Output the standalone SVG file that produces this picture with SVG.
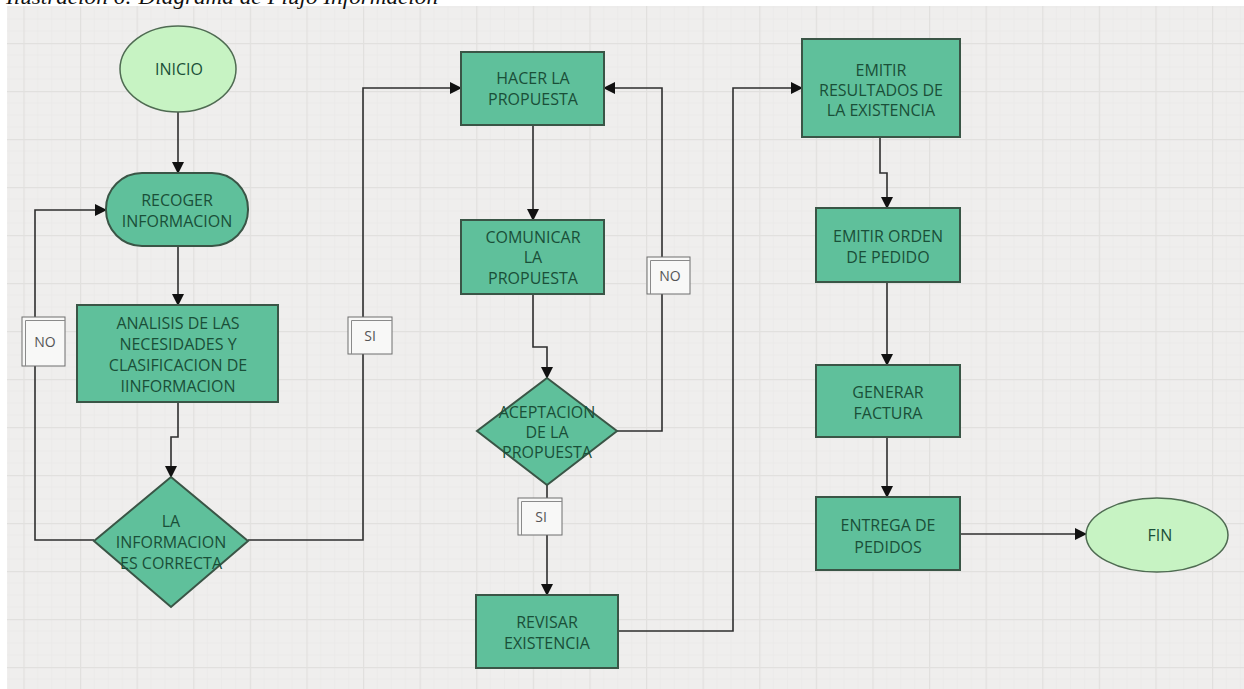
<svg xmlns="http://www.w3.org/2000/svg" width="1244" height="689" viewBox="0 0 1244 689">
  <style>
    .caption { font-family: "Liberation Serif", serif; font-style: italic; font-size: 20px; fill: #111; }
    .box { fill: #5fc09b; stroke: #3a5546; stroke-width: 2; }
    .term { fill: #c7f3c3; stroke: #4f6b52; stroke-width: 1.5; }
    .lbl { font-family: "Open Sans", "Liberation Sans", sans-serif; font-size: 16px; fill: #1a4f38; text-anchor: middle; }
    .tag { fill: #f8f8f7; stroke: #6e6e6e; stroke-width: 1; }
    .tagline { fill: none; stroke: #8a8a8a; stroke-width: 1; }
    .tagtxt { font-family: "Open Sans", "Liberation Sans", sans-serif; font-size: 14px; fill: #555; text-anchor: middle; }
    .wire { fill: none; stroke: #2e2e2e; stroke-width: 1.6; }
  </style>
  <defs>
    <pattern id="grid" x="80" y="43" width="56.6" height="48" patternUnits="userSpaceOnUse">
      <path d="M14.15 0V48M28.3 0V48M42.45 0V48M0 12H56.6M0 24H56.6M0 36H56.6" stroke="#ebeae9" stroke-width="1" fill="none"/>
      <path d="M0.5 0V48M0 0.5H56.6" stroke="#e1e0de" stroke-width="1.5" fill="none"/>
    </pattern>
    <marker id="arrow" viewBox="0 0 12 12" refX="11" refY="6" markerWidth="12" markerHeight="12" markerUnits="userSpaceOnUse" orient="auto">
      <path d="M0 0L12 6L0 12Z" fill="#111"/>
    </marker>
  </defs>

  <!-- page -->
  <rect x="0" y="0" width="1244" height="689" fill="#ffffff"/>
  <rect x="7" y="6" width="1237" height="683" fill="#efeeed"/>
  <rect x="7" y="6" width="1237" height="683" fill="url(#grid)"/>
  <text class="caption" x="6" y="4" textLength="432" lengthAdjust="spacingAndGlyphs">Ilustración 6: Diagrama de Flujo Información</text>

  <!-- connectors -->
  <g id="connectors">
    <path class="wire" d="M178 112V173" marker-end="url(#arrow)"/>
    <path class="wire" d="M178 246V305" marker-end="url(#arrow)"/>
    <path class="wire" d="M178 402V437H171V477" marker-end="url(#arrow)"/>
    <path class="wire" d="M94 540H35V210H106" marker-end="url(#arrow)"/>
    <path class="wire" d="M248 540H363V88H461" marker-end="url(#arrow)"/>
    <path class="wire" d="M533 125V220" marker-end="url(#arrow)"/>
    <path class="wire" d="M533 294V347H547V378" marker-end="url(#arrow)"/>
    <path class="wire" d="M617 431H662V88H604" marker-end="url(#arrow)"/>
    <path class="wire" d="M547 485V595" marker-end="url(#arrow)"/>
    <path class="wire" d="M618 631H733V88H802" marker-end="url(#arrow)"/>
    <path class="wire" d="M880 137V173H887V208" marker-end="url(#arrow)"/>
    <path class="wire" d="M887 282V365" marker-end="url(#arrow)"/>
    <path class="wire" d="M887 437V497" marker-end="url(#arrow)"/>
    <path class="wire" d="M960 534H1086" marker-end="url(#arrow)"/>

    <!-- branch tags -->
    <g id="tag-no-1">
      <rect class="tag" x="22" y="317" width="43" height="49"/>
      <path class="tagline" d="M25.5 366V320.5H65"/>
      <text class="tagtxt" x="45" y="347">NO</text>
    </g>
    <g id="tag-si-1">
      <rect class="tag" x="348" y="317" width="44" height="37"/>
      <path class="tagline" d="M351.5 354V320.5H392"/>
      <text class="tagtxt" x="370" y="341">SI</text>
    </g>
    <g id="tag-no-2">
      <rect class="tag" x="647" y="257" width="43" height="37"/>
      <path class="tagline" d="M650.5 294V260.5H690"/>
      <text class="tagtxt" x="670" y="281">NO</text>
    </g>
    <g id="tag-si-2">
      <rect class="tag" x="518" y="498" width="44" height="37"/>
      <path class="tagline" d="M521.5 535V501.5H562"/>
      <text class="tagtxt" x="541" y="522">SI</text>
    </g>
  </g>

  <g id="inicio">
    <ellipse class="term" cx="178" cy="69" rx="58" ry="43"/>
    <text class="lbl" x="179" y="75">INICIO</text>
  </g>

  <g id="recoger">
    <rect class="box" x="106" y="173" width="142" height="73" rx="36" ry="36"/>
    <text class="lbl" x="177" y="206">RECOGER</text>
    <text class="lbl" x="177" y="227">INFORMACION</text>
  </g>

  <g id="analisis">
    <rect class="box" x="77" y="305" width="201" height="97"/>
    <text class="lbl" x="178" y="329">ANALISIS DE LAS</text>
    <text class="lbl" x="178" y="350">NECESIDADES Y</text>
    <text class="lbl" x="178" y="371">CLASIFICACION DE</text>
    <text class="lbl" x="178" y="392">IINFORMACION</text>
  </g>

  <g id="decision-informacion">
    <path class="box" d="M171 477L248 541L171 607L94 541Z"/>
    <text class="lbl" x="171" y="527">LA</text>
    <text class="lbl" x="171" y="548">INFORMACION</text>
    <text class="lbl" x="171" y="569">ES CORRECTA</text>
  </g>

  <g id="hacer-propuesta">
    <rect class="box" x="461" y="52" width="143" height="73"/>
    <text class="lbl" x="533" y="84">HACER LA</text>
    <text class="lbl" x="533" y="105">PROPUESTA</text>
  </g>

  <g id="comunicar-propuesta">
    <rect class="box" x="461" y="220" width="143" height="74"/>
    <text class="lbl" x="533" y="243">COMUNICAR</text>
    <text class="lbl" x="533" y="263">LA</text>
    <text class="lbl" x="533" y="284">PROPUESTA</text>
  </g>

  <g id="decision-aceptacion">
    <path class="box" d="M547 378L617 431L547 485L477 431Z"/>
    <text class="lbl" x="547" y="418">ACEPTACION</text>
    <text class="lbl" x="547" y="438">DE LA</text>
    <text class="lbl" x="547" y="458">PROPUESTA</text>
  </g>

  <g id="revisar-existencia">
    <rect class="box" x="476" y="595" width="142" height="73"/>
    <text class="lbl" x="547" y="628">REVISAR</text>
    <text class="lbl" x="547" y="649">EXISTENCIA</text>
  </g>

  <g id="emitir-resultados">
    <rect class="box" x="802" y="39" width="158" height="98"/>
    <text class="lbl" x="881" y="76">EMITIR</text>
    <text class="lbl" x="881" y="96">RESULTADOS DE</text>
    <text class="lbl" x="881" y="116">LA EXISTENCIA</text>
  </g>

  <g id="emitir-orden">
    <rect class="box" x="816" y="208" width="144" height="74"/>
    <text class="lbl" x="888" y="242">EMITIR ORDEN</text>
    <text class="lbl" x="888" y="263">DE PEDIDO</text>
  </g>

  <g id="generar-factura">
    <rect class="box" x="816" y="365" width="144" height="72"/>
    <text class="lbl" x="888" y="398">GENERAR</text>
    <text class="lbl" x="888" y="419">FACTURA</text>
  </g>

  <g id="entrega-pedidos">
    <rect class="box" x="816" y="497" width="144" height="73"/>
    <text class="lbl" x="888" y="531">ENTREGA DE</text>
    <text class="lbl" x="888" y="553">PEDIDOS</text>
  </g>

  <g id="fin">
    <ellipse class="term" cx="1157" cy="535" rx="71" ry="37"/>
    <text class="lbl" x="1160" y="541">FIN</text>
  </g>
</svg>
